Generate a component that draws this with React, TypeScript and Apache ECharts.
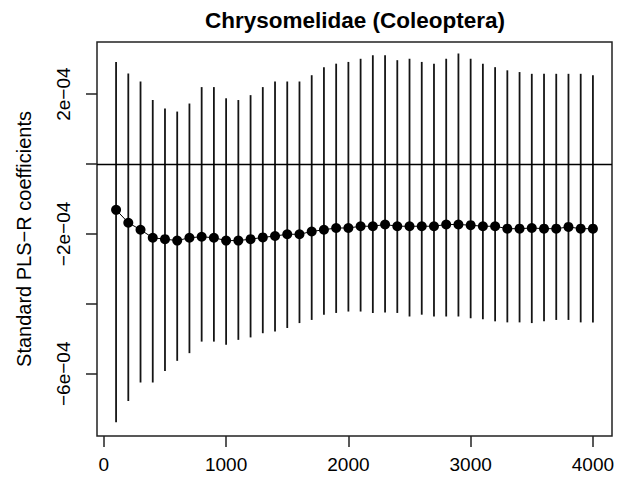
import React, { useEffect, useRef } from "react";
import * as echarts from "echarts";

// Depth (x) values
const depths = [
  100, 200, 300, 400, 500, 600, 700, 800, 900, 1000,
  1100, 1200, 1300, 1400, 1500, 1600, 1700, 1800, 1900, 2000,
  2100, 2200, 2300, 2400, 2500, 2600, 2700, 2800, 2900, 3000,
  3100, 3200, 3300, 3400, 3500, 3600, 3700, 3800, 3900, 4000,
];

// Coefficient estimates, in units of 1e-04
const estimate = [
  -1.31, -1.68, -1.88, -2.11, -2.15, -2.19, -2.11, -2.08, -2.11, -2.19,
  -2.19, -2.15, -2.1, -2.06, -2.01, -2.01, -1.93, -1.88, -1.83, -1.83,
  -1.78, -1.78, -1.73, -1.78, -1.78, -1.78, -1.78, -1.73, -1.73, -1.75,
  -1.78, -1.78, -1.85, -1.85, -1.83, -1.85, -1.85, -1.8, -1.85, -1.85,
];

// Upper ends of the intervals, in units of 1e-04
const upper = [
  2.92, 2.59, 2.36, 1.83, 1.59, 1.5, 1.73, 2.2, 2.2, 1.88,
  1.83, 1.97, 2.2, 2.36, 2.36, 2.36, 2.54, 2.77, 2.87, 2.92,
  3.01, 3.11, 3.11, 2.97, 3.01, 2.92, 2.87, 3.01, 3.16, 3.01,
  2.87, 2.77, 2.68, 2.63, 2.58, 2.58, 2.58, 2.58, 2.58, 2.54,
];

// Lower ends of the intervals, in units of 1e-04
const lower = [
  -7.39, -6.78, -6.25, -6.25, -5.92, -5.63, -5.41, -5.08, -5.08, -5.17,
  -5.03, -4.96, -4.84, -4.79, -4.69, -4.55, -4.46, -4.31, -4.26, -4.22,
  -4.22, -4.26, -4.25, -4.26, -4.36, -4.31, -4.36, -4.36, -4.36, -4.41,
  -4.44, -4.5, -4.53, -4.53, -4.55, -4.5, -4.46, -4.46, -4.53, -4.53,
];

const xTicks = [0, 1000, 2000, 3000, 4000];
const yTicks = [-6, -4, -2, 0, 2];
const yLabelValues = [-6, -2, 2];
const yLabelTexts = ["\u22126e\u221204", "\u22122e\u221204", "2e\u221204"];

const titleText = "Chrysomelidae (Coleoptera)";
const yTitle = "Standard PLS\u2212R coefficients";

export default function App() {
  const ref = useRef<HTMLDivElement>(null);

  useEffect(() => {
    document.body.style.margin = "0";
    const chart = echarts.init(ref.current!, null, { renderer: "svg" });
    const font = "'Liberation Sans', Arial, Helvetica, sans-serif";
    const ink = "#141414";

    chart.setOption({
      animation: false,
      backgroundColor: "#ffffff",
      graphic: [
        {
          type: "text",
          x: 355,
          y: 20,
          style: {
            text: titleText,
            align: "center",
            verticalAlign: "middle",
            fontFamily: font,
            fontWeight: "bold",
            fontSize: 22.5,
            fill: "#000",
          },
        },
      ],
      grid: {
        left: 97,
        top: 42,
        width: 515,
        height: 394,
        show: true,
        borderColor: "#222",
        borderWidth: 1.5,
        backgroundColor: "transparent",
      },
      xAxis: {
        type: "value",
        min: -56,
        max: 4156,
        axisLine: { show: false, onZero: false },
        splitLine: { show: false },
        axisTick: {
          show: true,
          length: 11,
          customValues: xTicks,
          lineStyle: { color: "#222", width: 1.5 },
        },
        axisLabel: {
          customValues: xTicks,
          margin: 19,
          fontSize: 19,
          fontFamily: font,
          color: "#000",
          formatter: (v: number) => String(Math.round(v)),
        },
      },
      yAxis: {
        type: "value",
        min: -7.78,
        max: 3.49,
        name: yTitle,
        nameLocation: "middle",
        nameRotate: 90,
        nameGap: 63,
        nameTextStyle: { fontSize: 20, fontFamily: font, color: "#000" },
        axisLine: { show: false, onZero: false },
        splitLine: { show: false },
        axisTick: {
          show: true,
          length: 11,
          customValues: yTicks,
          lineStyle: { color: "#222", width: 1.5 },
        },
        axisLabel: {
          customValues: yLabelValues,
          rotate: 90,
          margin: 24,
          fontSize: 19,
          fontFamily: font,
          color: "#000",
          formatter: (v: number) => {
            const i = yLabelValues.indexOf(Math.round(v));
            return i >= 0 ? yLabelTexts[i] : "";
          },
        },
      },
      series: [
        {
          type: "custom",
          name: "interval",
          data: depths.map((d, i) => [d, lower[i], upper[i]]),
          encode: { x: 0, y: [1, 2] },
          renderItem: (_params: any, api: any) => {
            const x = api.value(0);
            const p1 = api.coord([x, api.value(1)]);
            const p2 = api.coord([x, api.value(2)]);
            return {
              type: "line",
              shape: { x1: p1[0], y1: p1[1], x2: p2[0], y2: p2[1] },
              style: { stroke: ink, lineWidth: 1.8 },
            };
          },
          z: 2,
        },
        {
          type: "line",
          name: "estimate",
          data: depths.map((d, i) => [d, estimate[i]]),
          symbol: "circle",
          symbolSize: 10,
          showSymbol: true,
          itemStyle: { color: "#000", borderWidth: 0 },
          lineStyle: { color: "#000", width: 1 },
          z: 3,
          markLine: {
            silent: true,
            symbol: "none",
            label: { show: false },
            lineStyle: { color: "#000", width: 1.3, type: "solid" },
            data: [{ yAxis: 0 }],
          },
        },
      ],
    });

    return () => chart.dispose();
  }, []);

  return (
    <div
      ref={ref}
      style={{ position: "absolute", left: 0, top: 0, width: 620, height: 483 }}
    />
  );
}
